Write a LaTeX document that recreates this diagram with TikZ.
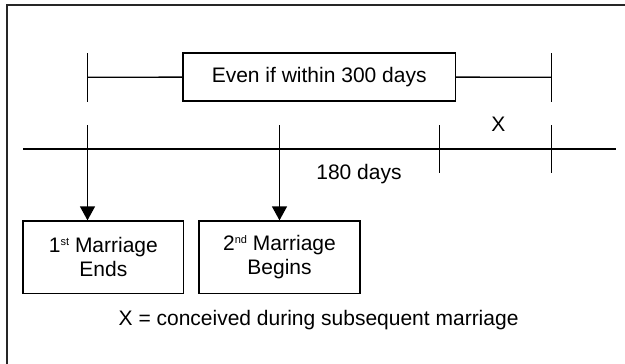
\documentclass[tikz,border=0pt]{standalone}
\usepackage{fontspec}
\setmainfont{Liberation Sans}
\usetikzlibrary{arrows.meta}
\begin{document}
\begin{tikzpicture}[x=1pt,y=-1pt,
  every node/.style={font=\fontsize{21}{24}\selectfont, inner sep=0pt},
  boxnode/.style={draw, line width=1.4pt, minimum height=72.3pt, align=center},
  line/.style={line width=1.3pt},
  arr/.style={line width=1.3pt, -{Triangle[width=15pt,length=14pt]}}]
\useasboundingbox (0,0) rectangle (625,364);
\clip (0,0) rectangle (625,364);
% outer frame (extends beyond the picture on right and bottom)
\draw[line width=1.9pt, black!85] (7,380) -- (7,5) -- (640,5);
% top bracket
\coordinate (tlt) at (87.5,53);
\coordinate (tlb) at (87.5,101.5);
\coordinate (tlm) at (87.5,77.3);
\coordinate (trt) at (551.5,53);
\coordinate (trb) at (551.5,101.5);
\coordinate (trm) at (551.5,77.3);
\node[draw, line width=1.4pt, minimum width=272.5pt, minimum height=48pt] (even) at (319.2,77.1) {Even if within 300 days};
\draw[line] (tlt) -- (tlb);
\draw[line] (trt) -- (trb);
\draw[line] (tlm) -- (even.west);
\draw[line] (even.east) -- (trm);
% main time line
\coordinate (ml) at (23,149);
\coordinate (mr) at (616,149);
\draw[line] (ml) -- (mr);
% ticks
\coordinate (t1t) at (439.3,125);
\coordinate (t1b) at (439.3,173);
\coordinate (t2t) at (551.5,125);
\coordinate (t2b) at (551.5,173);
\draw[line] (t1t) -- (t1b);
\draw[line] (t2t) -- (t2b);
% labels
\node[anchor=base] (xlab) at (498.3,131.7) {X};
\node[anchor=base] (days) at (359,179) {180 days};
% boxes
\node[boxnode, minimum width=160.7pt] (b1) at (103.4,257.2) {1\raisebox{7pt}{\fontsize{11}{11}\selectfont st} Marriage\\Ends};
\node[boxnode, minimum width=161pt] (b2) at (279.5,257.2) {2\raisebox{7pt}{\fontsize{11}{11}\selectfont nd} Marriage\\Begins};
% arrows
\coordinate (a1) at (87.5,125);
\coordinate (a2) at (279.5,125);
\draw[arr] (a1) -- (a1 |- b1.north);
\draw[arr] (a2) -- (b2.north);
% caption
\node[anchor=base] (cap) at (318.6,325) {X = conceived during subsequent marriage};
\end{tikzpicture}
\end{document}
